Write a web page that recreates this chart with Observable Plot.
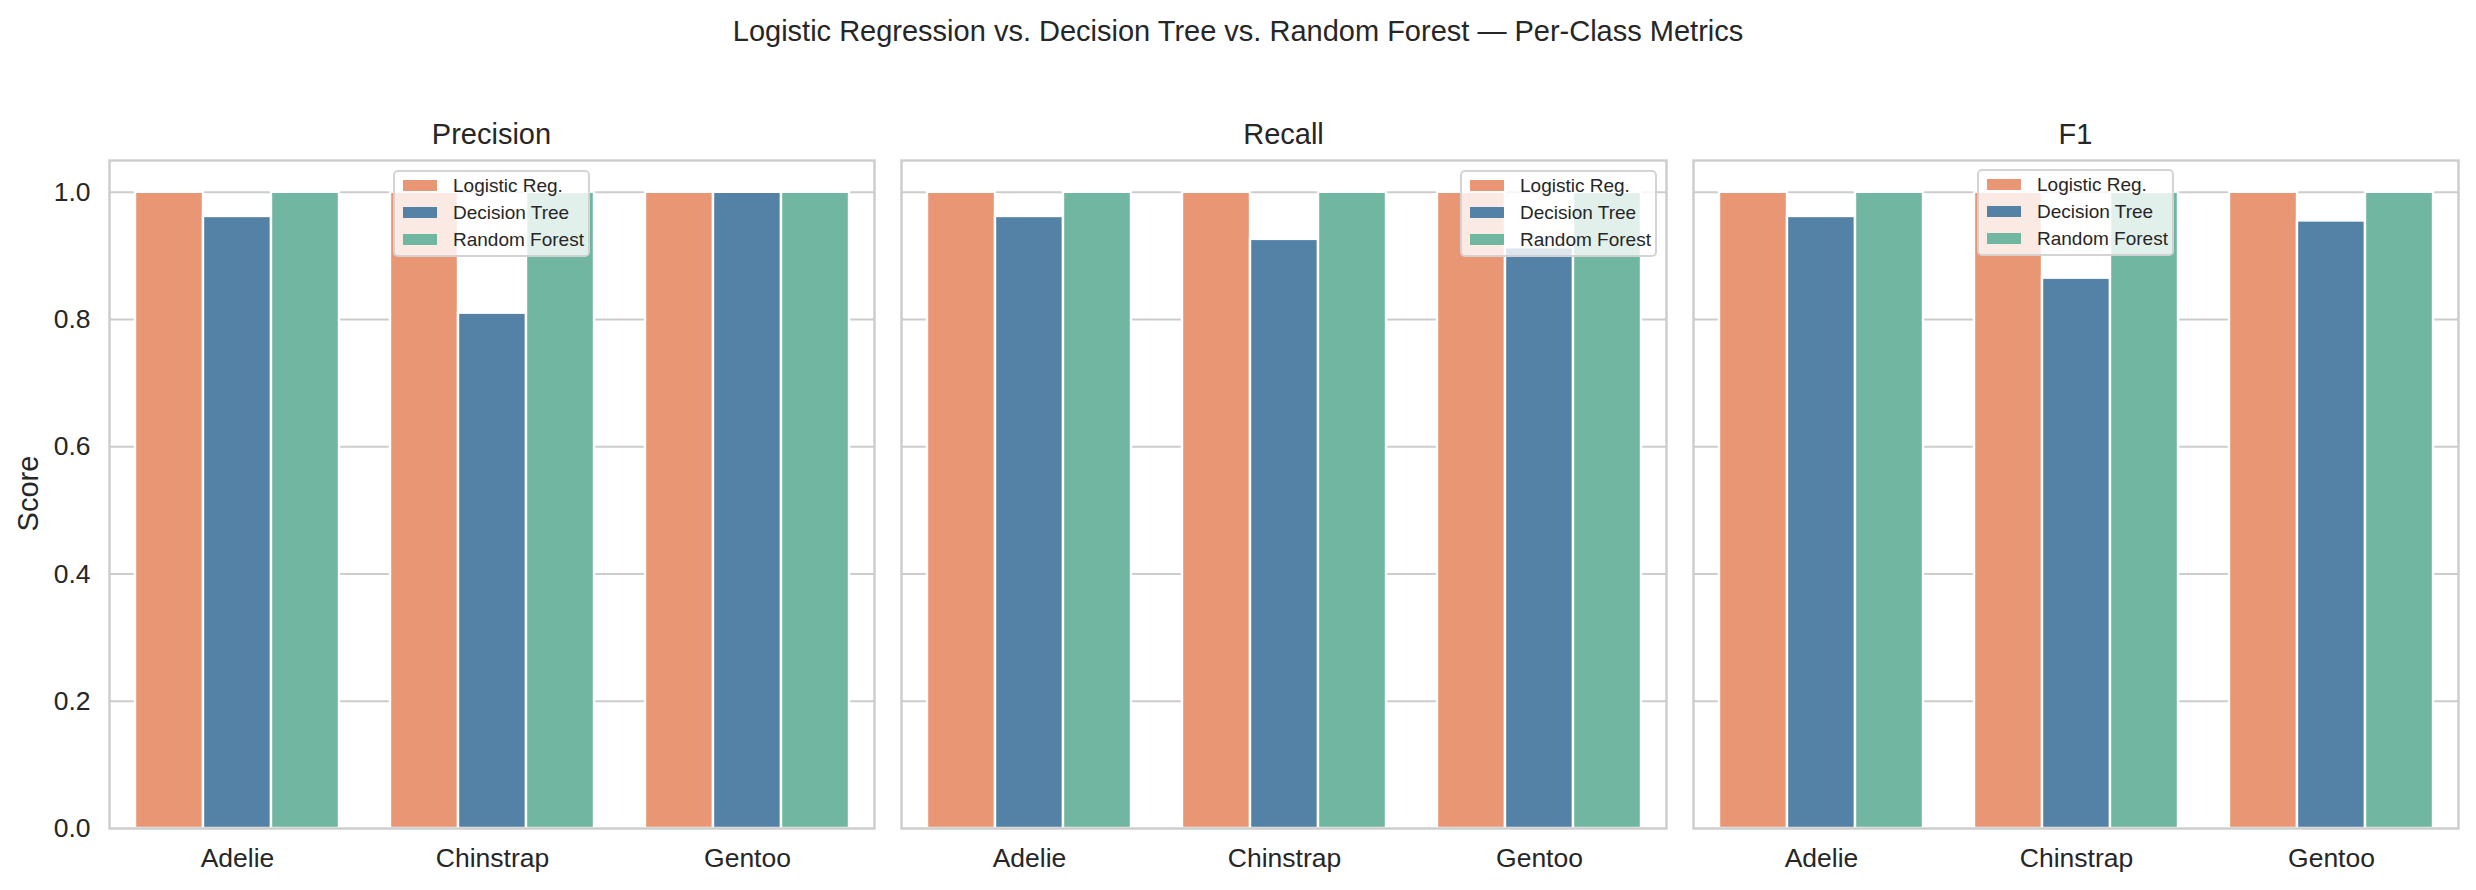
<!DOCTYPE html>
<html>
<head>
<meta charset="utf-8">
<script src="https://cdn.jsdelivr.net/npm/d3@7"></script>
<script src="https://cdn.jsdelivr.net/npm/@observablehq/plot@0.6"></script>
<style>
  body { margin: 0; background: #fff; }
  #root { position: relative; width: 2476px; height: 890px; overflow: hidden;
          font-family: "Liberation Sans", Arial, sans-serif; color: #262626; }
  .abs { position: absolute; }
  .title { font-size: 29px; line-height: 29px; text-align: center; white-space: nowrap; }
  .legend { background: rgba(255,255,255,0.8); border: 2px solid rgba(204,204,204,0.85);
            border-radius: 5px; box-sizing: border-box; }
  .legend .row { position: absolute; font-size: 19px; line-height: 19px; white-space: nowrap; }
  .legend .sw { position: absolute; width: 34px; height: 11px; }
</style>
</head>
<body>
<div id="root"></div>
<script>
// ---- data ----
const metrics = ["Precision", "Recall", "F1"];
const species = ["Adelie", "Chinstrap", "Gentoo"];
const models = ["Logistic Reg.", "Decision Tree", "Random Forest"];
const colors = ["#E99675", "#5481A6", "#71B6A1"];
const yTicks = [0.0, 0.2, 0.4, 0.6, 0.8, 1.0];

const precisionLR = [1.0, 1.0, 1.0];
const precisionDT = [0.962, 0.810, 1.0];
const precisionRF = [1.0, 1.0, 1.0];
const recallLR = [1.0, 1.0, 1.0];
const recallDT = [0.962, 0.926, 0.913];
const recallRF = [1.0, 1.0, 1.0];
const f1LR = [1.0, 1.0, 1.0];
const f1DT = [0.962, 0.865, 0.955];
const f1RF = [1.0, 1.0, 1.0];

const seriesByMetric = {
  "Precision": [precisionLR, precisionDT, precisionRF],
  "Recall": [recallLR, recallDT, recallRF],
  "F1": [f1LR, f1DT, f1RF]
};

function tableFor(metric) {
  const rows = [];
  seriesByMetric[metric].forEach((vals, mi) => {
    vals.forEach((v, si) => rows.push({species: species[si], model: models[mi], value: v}));
  });
  return rows;
}

// ---- layout (styles) ----
const root = document.getElementById("root");
const svgTop = 100, svgHeight = 790;
const panels = [
  {left: 0, marginLeft: 109, width: 876, showY: true, legend: [393, 170]},
  {left: 899, marginLeft: 2, width: 769, showY: false, legend: [1460, 170]},
  {left: 1691, marginLeft: 2, width: 769, showY: false, legend: [1977, 169]}
];
const fontFamily = "'Liberation Sans', Arial, sans-serif";

function addDiv(cls, css, text) {
  const d = document.createElement("div");
  d.className = cls;
  Object.assign(d.style, css);
  if (text != null) d.textContent = text;
  root.appendChild(d);
  return d;
}
function place(svg, left) {
  svg.style.position = "absolute";
  svg.style.left = left + "px";
  svg.style.top = svgTop + "px";
  svg.style.pointerEvents = "none";
  root.appendChild(svg);
}

// suptitle
addDiv("abs title", {left: "0px", width: "2476px", top: "17px"},
  "Logistic Regression vs. Decision Tree vs. Random Forest \u2014 Per-Class Metrics");

// y label
addDiv("abs title", {left: "-72px", width: "200px", top: "479px", transform: "rotate(-90deg)"}, "Score");

metrics.forEach((metric, i) => {
  const p = panels[i];
  const common = {
    width: p.width,
    height: svgHeight,
    marginLeft: p.marginLeft,
    marginRight: 2,
    marginTop: 60,
    marginBottom: 62
  };

  // background grid (full axes width)
  const grid = Plot.plot({
    ...common,
    style: {background: "transparent"},
    x: {axis: null},
    y: {domain: [0, 1.05], axis: null},
    marks: [Plot.ruleY(yTicks.slice(1), {stroke: "#cccccc", strokeWidth: 2})]
  });
  place(grid, p.left);

  // bars
  const chart = Plot.plot({
    ...common,
    style: {fontFamily, fontSize: "26.5px", color: "#262626", background: "transparent", overflow: "visible"},
    fx: {domain: species, paddingInner: 0.2, paddingOuter: 0.1, axis: "bottom", label: null, tickSize: 0, tickPadding: 20},
    x: {domain: models, padding: 0, axis: null},
    y: {domain: [0, 1.05], axis: null},
    color: {domain: models, range: colors},
    marks: [
      Plot.barY(tableFor(metric), {fx: "species", x: "model", y: "value", fill: "model", stroke: "white", strokeWidth: 2.4})
    ]
  });
  place(chart, p.left);

  // axes frame (spines) and y axis on top
  const frame = Plot.plot({
    ...common,
    style: {fontFamily, fontSize: "26.5px", color: "#262626", background: "transparent", overflow: "visible"},
    x: {axis: null},
    y: p.showY
      ? {domain: [0, 1.05], ticks: yTicks, tickFormat: d => d.toFixed(1), tickSize: 0, tickPadding: 19, label: null}
      : {domain: [0, 1.05], axis: null},
    marks: [Plot.frame({stroke: "#cccccc", strokeWidth: 2.4})]
  });
  place(frame, p.left);

  // panel title
  const axLeft = p.left + p.marginLeft;
  const axCenter = axLeft + (p.width - p.marginLeft - 2) / 2;
  addDiv("abs title", {left: (axCenter - 300) + "px", width: "600px", top: "120px"}, metric);

  // legend
  const lg = addDiv("abs legend", {left: p.legend[0] + "px", top: p.legend[1] + "px", width: "197px", height: "87px"});
  models.forEach((m, k) => {
    const cy = 15 + 27 * k;
    const sw = document.createElement("div");
    sw.className = "sw";
    Object.assign(sw.style, {left: "8px", top: (cy - 5.5 - 2) + "px", background: colors[k]});
    lg.appendChild(sw);
    const r = document.createElement("div");
    r.className = "row";
    Object.assign(r.style, {left: "58px", top: (cy - 9.5 - 2) + "px"});
    r.textContent = m;
    lg.appendChild(r);
  });
});
</script>
</body>
</html>
